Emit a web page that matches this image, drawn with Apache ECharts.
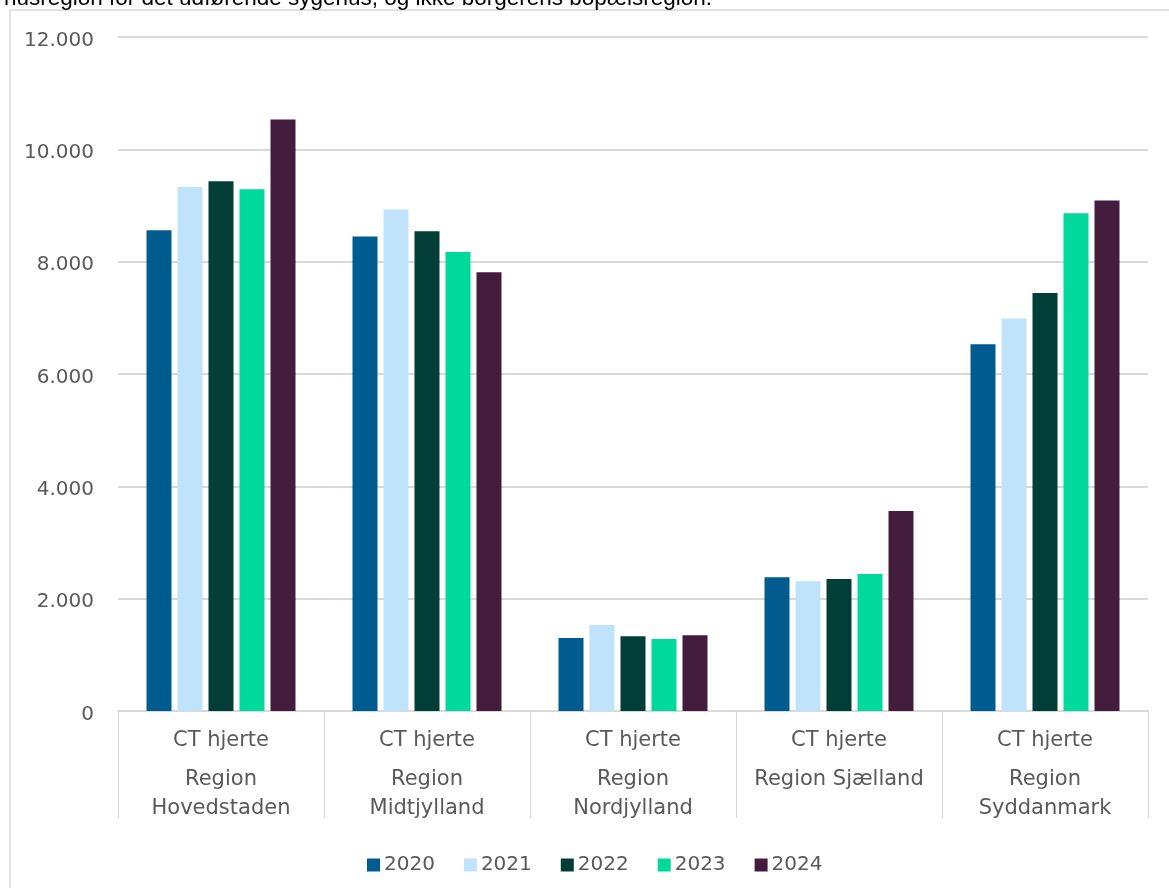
<!DOCTYPE html>
<html>
<head>
<meta charset="utf-8">
<script src="https://cdn.jsdelivr.net/npm/echarts@6/dist/echarts.min.js"></script>
<style>
html,body{margin:0;padding:0;background:#fff;}
#c{width:1169px;height:888px;}
</style>
</head>
<body>
<div id="c"></div>
<script>
const procedure = "CT hjerte";
const regions = ["Region\nHovedstaden", "Region\nMidtjylland", "Region\nNordjylland", "Region Sjælland", "Region\nSyddanmark"];
const years = ["2020", "2021", "2022", "2023", "2024"];
const v2020 = [8560, 8450, 1300, 2380, 6530];
const v2021 = [9330, 8930, 1530, 2310, 6990];
const v2022 = [9430, 8540, 1330, 2350, 7440];
const v2023 = [9290, 8170, 1280, 2440, 8860];
const v2024 = [10530, 7810, 1350, 3560, 9090];
const yTicks = [0, 2000, 4000, 6000, 8000, 10000, 12000];
const colors = ["#005b8f", "#c0e3fc", "#003e37", "#00d99c", "#441c3d"];
const noteText = "husregion for det udførende sygehus, og ikke borgerens bopælsregion.";

const seriesValues = [v2020, v2021, v2022, v2023, v2024];
const FONT = "DejaVu Sans";

const chart = echarts.init(document.getElementById('c'), null, {renderer: 'canvas'});
chart.setOption({
  backgroundColor: '#fff',
  animation: false,
  color: colors,
  textStyle: {fontFamily: FONT},
  graphic: [
    {type: 'rect', shape: {x: 10, y: 10, width: 1300, height: 1000}, style: {fill: 'none', stroke: '#d9d9d9', lineWidth: 1.5}, silent: true},
    {type: 'text', x: 4, y: 10, style: {text: noteText, font: '22.5px "Liberation Sans", Arial, sans-serif', fill: '#000', verticalAlign: 'bottom'}, silent: true}
  ],
  grid: {left: 118, right: 21, top: 37, bottom: 177, containLabel: false},
  legend: {
    data: years,
    left: 362,
    top: 850,
    itemWidth: 13,
    itemHeight: 13,
    itemGap: 29,
    icon: 'rect',
    textStyle: {fontSize: 20, color: '#595959', fontFamily: FONT, padding: [0, 0, 0, -1]}
  },
  xAxis: {
    type: 'category',
    data: regions,
    axisLine: {show: true, lineStyle: {color: '#d9d9d9', width: 2}},
    axisTick: {show: true, interval: 0, length: 107, lineStyle: {color: '#d9d9d9', width: 1}},
    axisLabel: {
      interval: 0,
      margin: 6,
      formatter: function (v) {
        return '{a|' + procedure + '}\n' + v.split('\n').map(s => '{b|' + s + '}').join('\n');
      },
      rich: {
        a: {fontSize: 21, lineHeight: 48, color: '#595959', fontFamily: FONT},
        b: {fontSize: 21, lineHeight: 29, color: '#595959', fontFamily: FONT}
      }
    }
  },
  yAxis: {
    type: 'value',
    min: yTicks[0],
    max: yTicks[yTicks.length - 1],
    interval: 2000,
    axisLine: {show: false},
    axisTick: {show: false},
    splitLine: {lineStyle: {color: '#d9d9d9', width: 2}},
    axisLabel: {
      margin: 24,
      formatter: v => '{v|' + (v === 0 ? '0' : v.toLocaleString('da-DK')) + '}',
      rich: {
        v: {fontSize: 20, color: '#595959', fontFamily: FONT, padding: [7, 0, 0, 0]}
      }
    }
  },
  series: years.map((y, i) => ({
    name: y,
    type: 'bar',
    data: seriesValues[i],
    barWidth: 25,
    barGap: '24%',
    itemStyle: {color: colors[i]}
  }))
});
</script>
</body>
</html>
